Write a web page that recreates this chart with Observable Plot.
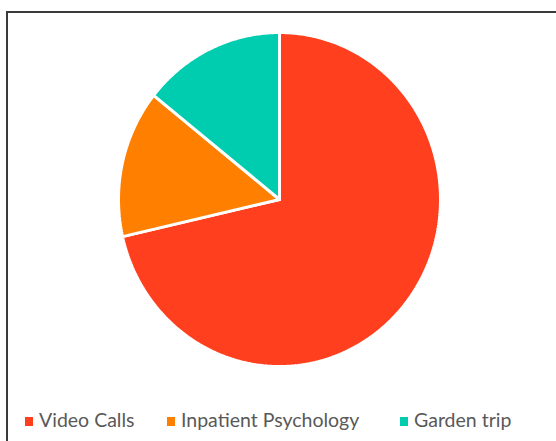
<!DOCTYPE html>
<html>
<head>
<meta charset="utf-8">
<script src="https://cdn.jsdelivr.net/npm/d3@7"></script>
<script src="https://cdn.jsdelivr.net/npm/@observablehq/plot@0.6"></script>
<style>
  html, body { margin: 0; padding: 0; background: #fff; }
  #wrap { position: relative; width: 556px; height: 441px; overflow: hidden; }
  #frame { position: absolute; left: 6px; top: 11px; width: 700px; height: 600px;
           border-left: 2px solid #3a3a3a; border-top: 2px solid #3a3a3a; }
  #chart { position: absolute; left: 0; top: 0; }
  .leg { position: absolute; top: 407px; font-family: Lato, "Open Sans", sans-serif;
         font-size: 19.5px; color: #595959; white-space: nowrap; line-height: 26px; }
  .sw { display: inline-block; width: 8px; height: 9px; margin-right: 6px; vertical-align: 1px; }
</style>
</head>
<body>
<div id="wrap">
  <div id="frame"></div>
  <div id="chart"></div>
</div>
<script>
const categories = ["Video Calls", "Inpatient Psychology", "Garden trip"];
const values = [5, 1, 1];
const colors = ["#FF3F1E", "#FF7F00", "#00CDB0"];

const data = categories.map((c, i) => ({category: c, value: values[i]}));
const arcs = d3.pie().sort(null).value(d => d.value)(data);

// Build slice outlines from the pie layout (angle clockwise from top)
const pts = [];
arcs.forEach(a => {
  const c = a.data.category;
  pts.push({category: c, x: 0, y: 0});
  const n = Math.max(8, Math.ceil((a.endAngle - a.startAngle) / 0.01));
  for (let k = 0; k <= n; k++) {
    const t = a.startAngle + (a.endAngle - a.startAngle) * k / n;
    pts.push({category: c, x: Math.sin(t), y: Math.cos(t)});
  }
  pts.push({category: c, x: 0, y: 0});
});

const chart = Plot.plot({
  width: 556,
  height: 441,
  marginLeft: 118,
  marginRight: 116,
  marginTop: 32,
  marginBottom: 75,
  x: {domain: [-1, 1], axis: null},
  y: {domain: [-1, 1], axis: null},
  color: {domain: categories, range: colors},
  marks: [
    Plot.line(pts, {x: "x", y: "y", z: "category", fill: "category",
      stroke: "white", strokeWidth: 3, strokeLinejoin: "miter", curve: "linear"})
  ]
});
document.getElementById("chart").appendChild(chart);

const legendX = [25, 167, 400];
const wrap = document.getElementById("wrap");
categories.forEach((c, i) => {
  const d = document.createElement("div");
  d.className = "leg";
  d.style.left = legendX[i] + "px";
  d.innerHTML = `<span class="sw" style="background:${colors[i]}"></span>${c}`;
  wrap.appendChild(d);
});
</script>
</body>
</html>
